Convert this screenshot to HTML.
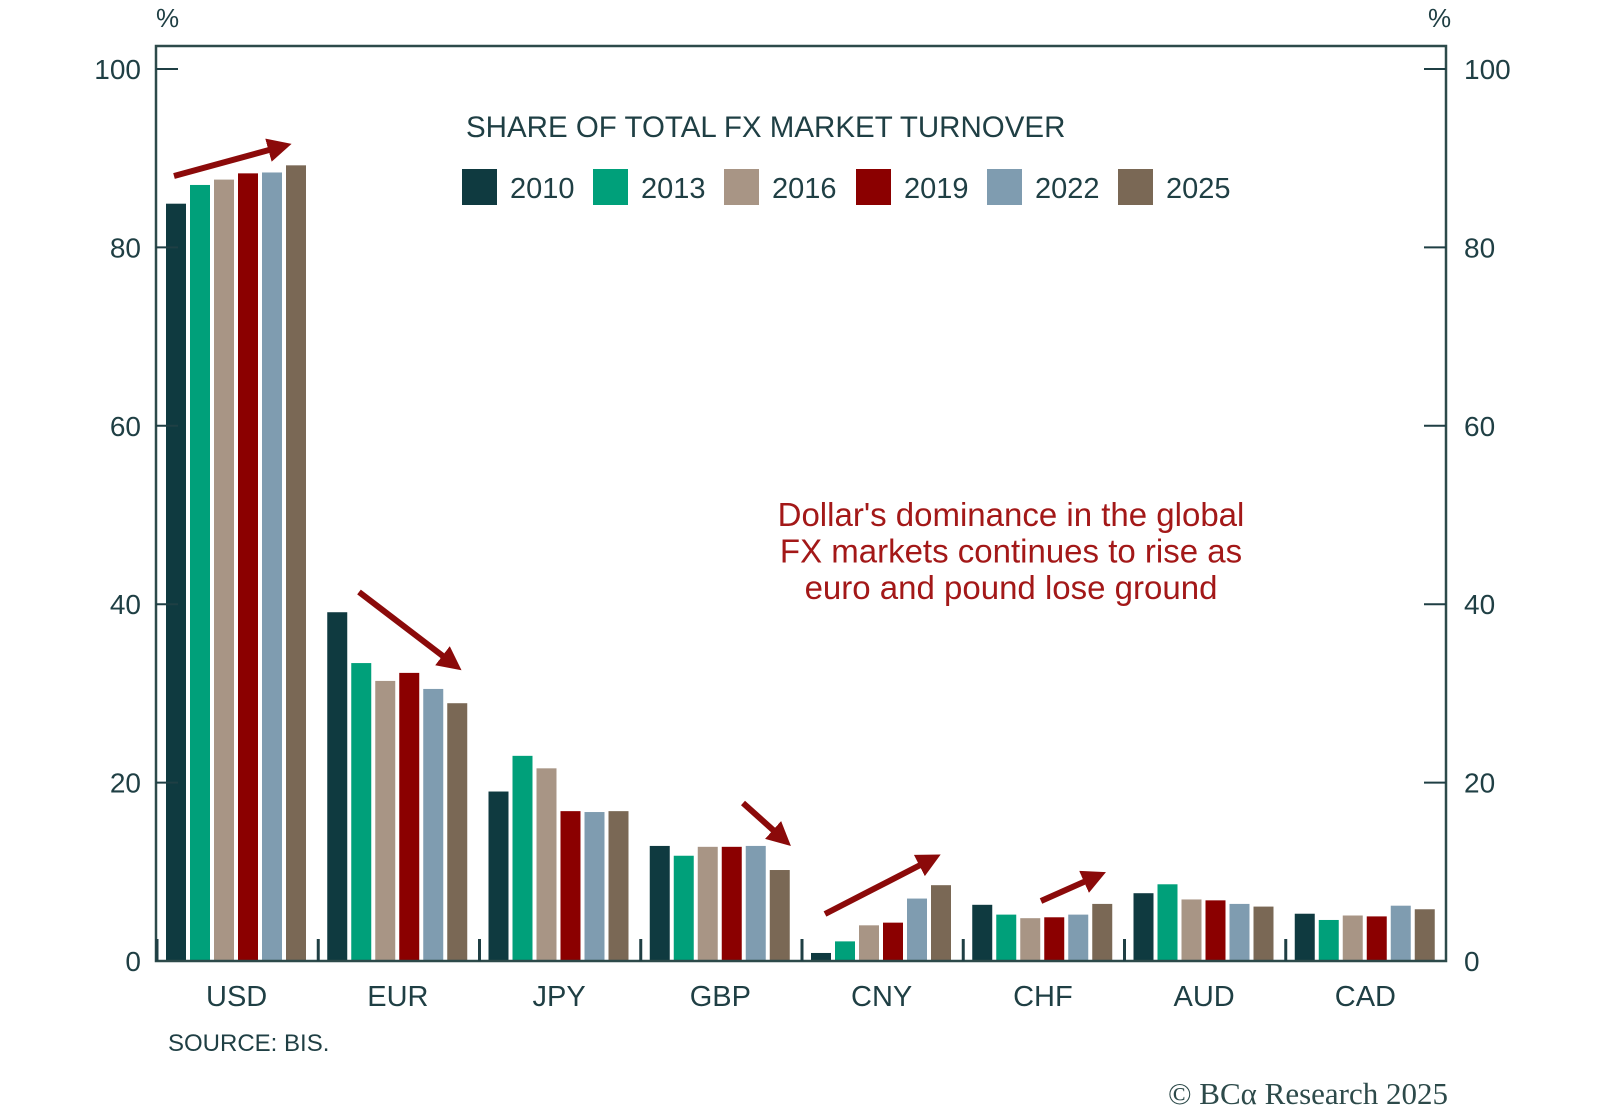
<!DOCTYPE html>
<html><head><meta charset="utf-8"><style>
body{margin:0;background:#fff;width:1600px;height:1107px;overflow:hidden}
svg{display:block;font-family:"Liberation Sans",sans-serif}
</style></head><body>
<svg id="chart" width="1600" height="1107" viewBox="0 0 1600 1107" xmlns="http://www.w3.org/2000/svg">
<defs><marker id="ah" markerWidth="4" markerHeight="4" refX="2" refY="2" orient="auto" markerUnits="strokeWidth"><path d="M0,0 L4,2 L0,4 Z" fill="#8b0a0a"/></marker></defs>
<g id="plot"></g>
</svg>
<script>
const categories=["USD","EUR","JPY","GBP","CNY","CHF","AUD","CAD"];
const years=["2010","2013","2016","2019","2022","2025"];
const colors=["#0f3a40","#00a07a","#a89585","#8b0000","#7f9cb0","#7a6855"];
const s2010=[84.9,39.1,19.0,12.9,0.9,6.3,7.6,5.3];
const s2013=[87.0,33.4,23.0,11.8,2.2,5.2,8.6,4.6];
const s2016=[87.6,31.4,21.6,12.8,4.0,4.8,6.9,5.1];
const s2019=[88.3,32.3,16.8,12.8,4.3,4.9,6.8,5.0];
const s2022=[88.4,30.5,16.7,12.9,7.0,5.2,6.4,6.2];
const s2025=[89.2,28.9,16.8,10.2,8.5,6.4,6.1,5.8];
const series=[s2010,s2013,s2016,s2019,s2022,s2025];
const yTicks=[0,20,40,60,80,100];

const NS="http://www.w3.org/2000/svg";
const svg=document.getElementById('plot');
const L=156,R=1446,T=46,B=961;
const y=v=>B-(v/100)*(B-69);
const gw=(R-L)/categories.length;
const x=(i,j)=>L+i*gw+10+j*24;
function el(t,a,txt){const e=document.createElementNS(NS,t);for(const k in a)e.setAttribute(k,a[k]);if(txt!==undefined)e.textContent=txt;svg.appendChild(e);return e;}
const ink="#1f3f44";

series.forEach((s,j)=>s.forEach((v,i)=>{
  const r=el('rect',{x:x(i,j),y:y(v),width:20,height:B-y(v),fill:colors[j]});
  
  
}));
const fr=el('path',{d:`M${L},${B} L${L},${T} L${R},${T} L${R},${B} Z`,fill:'none',stroke:'#2d4a4a','stroke-width':2.5});


for(let i=0;i<categories.length;i++){
  const s=el('line',{x1:L+i*gw+1,x2:L+i*gw+1,y1:B-22,y2:B,stroke:ink,'stroke-width':3});
  
  
}
yTicks.forEach(t=>{
  if(t>0){
    const a=el('line',{x1:L,x2:L+22,y1:y(t),y2:y(t),stroke:ink,'stroke-width':2});
    
    
    const b=el('line',{x1:R-22,x2:R,y1:y(t),y2:y(t),stroke:ink,'stroke-width':2});
    
    
  }
  const l=el('text',{x:141,y:y(t)+10,'text-anchor':'end','font-size':28,fill:ink},t);
  
  
  const r=el('text',{x:1464,y:y(t)+10,'font-size':28,fill:ink},t);
  
  
});
categories.forEach((c,i)=>{
  const t=el('text',{x:L+gw*(i+0.5),y:1006,'text-anchor':'middle','font-size':29,fill:ink},c);
  
  
});
const lx=[462,593,724,856,987,1118];
years.forEach((yr,j)=>{
  const r=el('rect',{x:lx[j],y:169,width:35,height:36,fill:colors[j]});
  
  
  const t=el('text',{x:lx[j]+48,y:198,'font-size':29,fill:ink},yr);
  
  
});
</script>
<script>
(function(){
const NS="http://www.w3.org/2000/svg";const g=document.getElementById('plot');
function el(t,a,txt){const e=document.createElementNS(NS,t);for(const k in a)e.setAttribute(k,a[k]);if(txt!==undefined)e.textContent=txt;g.appendChild(e);return e;}
const ink="#1f3f44";
let e;
e=el('text',{x:466,y:137,'font-size':29.5,fill:ink},'SHARE OF TOTAL FX MARKET TURNOVER');


e=el('text',{x:156,y:27,'font-size':26,fill:ink},'%');


e=el('text',{x:1428,y:27,'font-size':26,fill:ink},'%');


const ann=["Dollar's dominance in the global","FX markets continues to rise as","euro and pound lose ground"];
ann.forEach((s,i)=>{
  e=el('text',{x:1011,y:526+i*36.5,'text-anchor':'middle','font-size':33,fill:'#a31818'},s);
  
  
});
e=el('text',{x:168,y:1051,'font-size':24,fill:ink},'SOURCE: BIS.');


e=el('text',{x:1448,y:1104,'text-anchor':'end','font-size':31,fill:'#2d4a4a','font-family':'"Liberation Serif",serif'},'© BCα Research 2025');


const arrows=[[174,176,280,147],[359,592,452,663],[743,803,782,838],[825,914,930,860],[1041,901,1095,877]];
arrows.forEach(a=>{
  e=el('line',{x1:a[0],y1:a[1],x2:a[2],y2:a[3],stroke:'#8b0a0a','stroke-width':6,'marker-end':'url(#ah)'});
  
  
});
})();
</script>
</body></html>
